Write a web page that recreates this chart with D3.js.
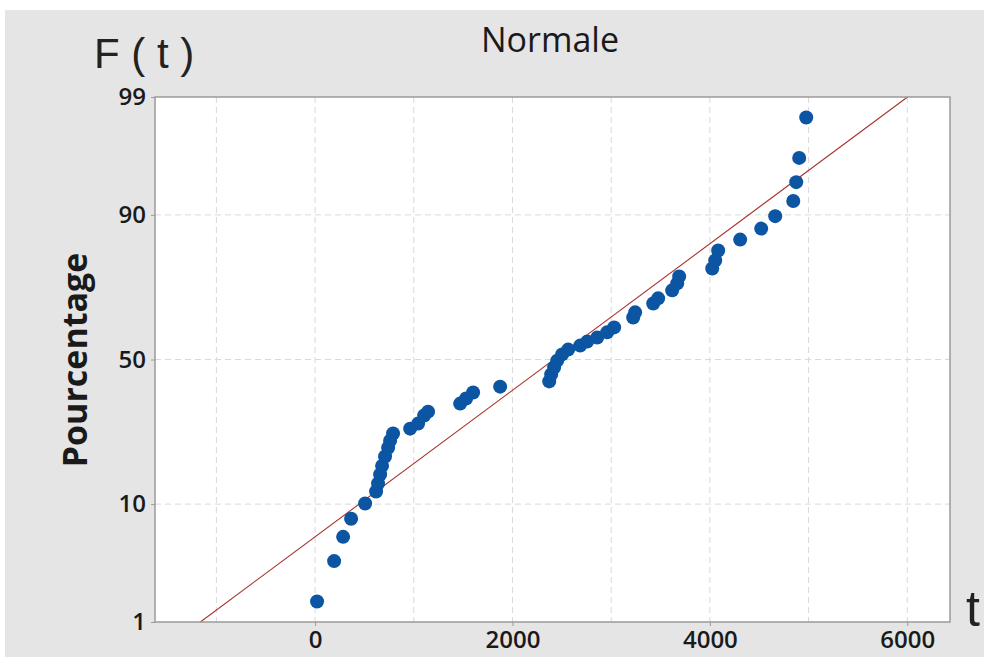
<!DOCTYPE html>
<html>
<head>
<meta charset="utf-8">
<script src="https://cdn.jsdelivr.net/npm/d3@7"></script>
<style>
  body { margin: 0; background: #fff; }
</style>
</head>
<body>
<div id="chart"></div>
<script>
// Données (t, pourcentage cumulé)
const tValues = [20, 193, 284, 365, 507, 618, 638, 659, 679, 709, 740, 760, 790, 963, 1044, 1105, 1145,
  1470, 1530, 1601, 1875, 2372, 2392, 2422, 2453, 2503, 2564, 2686, 2757, 2858, 2959, 3030,
  3223, 3243, 3426, 3476, 3618, 3669, 3689, 4024, 4054, 4084, 4307, 4520, 4662, 4845, 4875, 4905, 4976];
const pctValues = [1.6, 3.7, 5.8, 7.9, 10.1, 12.1, 13.6, 15.4, 17.3, 19.5, 21.7, 23.6, 25.6, 27.0, 28.5, 31.0, 32.2,
  34.8, 36.5, 38.5, 40.5, 42.3, 44.7, 47.2, 49.6, 51.8, 53.5, 54.9, 56.3, 57.7, 59.5, 61.2,
  64.5, 66.2, 69.0, 70.6, 73.0, 75.0, 76.9, 79.0, 81.0, 83.3, 85.6, 87.7, 89.8, 92.0, 94.2, 96.3, 98.4];

const yTicks = [1, 10, 50, 90, 99];
const yGrid = [10, 50, 90];
const xTicks = [0, 2000, 4000, 6000];
const xGrid = [-1000, 0, 1000, 2000, 3000, 4000, 5000, 6000];

// droite ajustée (loi normale)
const fitMean = 2420;
const fitSigma = 1540;

// fonction quantile de la loi normale (Acklam)
function probit(p) {
  const a = [-3.969683028665376e+01, 2.209460984245205e+02, -2.759285104469687e+02, 1.383577518672690e+02, -3.066479806614716e+01, 2.506628277459239e+00];
  const b = [-5.447609879822406e+01, 1.615858368580409e+02, -1.556989798598866e+02, 6.680131188771972e+01, -1.328068155288572e+01];
  const c = [-7.784894002430293e-03, -3.223964580411365e-01, -2.400758277161838e+00, -2.549732539343734e+00, 4.374664141464968e+00, 2.938163982698783e+00];
  const d = [7.784695709041462e-03, 3.224671290700398e-01, 2.445134137142996e+00, 3.754408661907416e+00];
  const plow = 0.02425;
  let q, r;
  if (p < plow) {
    q = Math.sqrt(-2 * Math.log(p));
    return (((((c[0]*q+c[1])*q+c[2])*q+c[3])*q+c[4])*q+c[5]) / ((((d[0]*q+d[1])*q+d[2])*q+d[3])*q+1);
  } else if (p <= 1 - plow) {
    q = p - 0.5; r = q * q;
    return (((((a[0]*r+a[1])*r+a[2])*r+a[3])*r+a[4])*r+a[5])*q / (((((b[0]*r+b[1])*r+b[2])*r+b[3])*r+b[4])*r+1);
  } else {
    q = Math.sqrt(-2 * Math.log(1 - p));
    return -(((((c[0]*q+c[1])*q+c[2])*q+c[3])*q+c[4])*q+c[5]) / ((((d[0]*q+d[1])*q+d[2])*q+d[3])*q+1);
  }
}

const width = 984, height = 657;
const plotLeft = 155, plotRight = 950, plotTop = 97, plotBottom = 622;

const svg = d3.select("#chart").append("svg")
  .attr("width", width)
  .attr("height", height);

// fond gris
svg.append("rect")
  .attr("x", 5).attr("y", 10)
  .attr("width", width - 5).attr("height", height - 10)
  .attr("fill", "#e5e5e5");

const x = d3.scaleLinear().domain([-1622, 6433]).range([plotLeft, plotRight]);
const zScale = d3.scaleLinear().domain([probit(0.01), probit(0.99)]).range([plotBottom, plotTop]);
const y = pct => zScale(probit(pct / 100));

// zone du graphique
svg.append("rect")
  .attr("x", plotLeft).attr("y", plotTop)
  .attr("width", plotRight - plotLeft).attr("height", plotBottom - plotTop)
  .attr("fill", "#fff");

// grilles
svg.append("g").selectAll("line")
  .data(xGrid).enter().append("line")
  .attr("x1", d => x(d)).attr("x2", d => x(d))
  .attr("y1", plotTop).attr("y2", plotBottom)
  .attr("stroke", "#d9d9d9").attr("stroke-dasharray", "6,4");

svg.append("g").selectAll("line")
  .data(yGrid).enter().append("line")
  .attr("x1", plotLeft).attr("x2", plotRight)
  .attr("y1", d => y(d)).attr("y2", d => y(d))
  .attr("stroke", "#d9d9d9").attr("stroke-dasharray", "6,4");

// droite ajustée
const lineP = [1, 99];
svg.append("path")
  .datum(lineP)
  .attr("d", d3.line()
    .x(p => x(fitMean + fitSigma * probit(p / 100)))
    .y(p => y(p)))
  .attr("stroke", "#a8332c")
  .attr("stroke-width", 1.1)
  .attr("fill", "none");

// points
const points = tValues.map((t, i) => ({ t: t, p: pctValues[i] }));
svg.append("g").selectAll("circle")
  .data(points).enter().append("circle")
  .attr("cx", d => x(d.t))
  .attr("cy", d => y(d.p))
  .attr("r", 7)
  .attr("fill", "#0b55a3");

// cadre
svg.append("rect")
  .attr("x", plotLeft).attr("y", plotTop)
  .attr("width", plotRight - plotLeft).attr("height", plotBottom - plotTop)
  .attr("fill", "none")
  .attr("stroke", "#9a9a9a")
  .attr("stroke-width", 1.5);

// axes
const xAxis = svg.append("g")
  .attr("transform", `translate(0,${plotBottom})`)
  .call(d3.axisBottom(x).tickValues(xTicks).tickSize(4).tickFormat(d3.format("d")));
const yAxis = svg.append("g")
  .attr("transform", `translate(${plotLeft},0)`)
  .call(d3.axisLeft(zScale).tickValues(yTicks.map(v => probit(v / 100)))
    .tickSize(4).tickFormat((d, i) => yTicks[i]));

[xAxis, yAxis].forEach(g => {
  g.select(".domain").remove();
  g.selectAll(".tick line").attr("stroke", "#9a9a9a");
  g.selectAll(".tick text")
    .attr("font-family", "'Open Sans', sans-serif")
    .attr("font-size", "24px")
    .attr("font-weight", 600)
    .attr("fill", "#1a1a1a");
});
xAxis.selectAll(".tick text").attr("dy", "0.8em");
yAxis.selectAll(".tick text").attr("dx", "-2px");

// titres
svg.append("text")
  .attr("x", 550).attr("y", 52)
  .attr("text-anchor", "middle")
  .attr("font-family", "'Open Sans', sans-serif")
  .attr("font-size", "34px")
  .attr("font-weight", 500)
  .attr("fill", "#1a1a1a")
  .text("Normale");

svg.append("text")
  .attr("transform", "translate(87,360) rotate(-90)")
  .attr("text-anchor", "middle")
  .attr("font-family", "'Open Sans', sans-serif")
  .attr("font-weight", "bold")
  .attr("font-size", "34px")
  .attr("fill", "#1a1a1a")
  .text("Pourcentage");

svg.append("text")
  .attr("x", 94).attr("y", 68)
  .attr("font-family", "'Liberation Sans', Arial, sans-serif")
  .attr("font-size", "42px")
  .attr("fill", "#222")
  .text("F ( t )");

svg.append("text")
  .attr("x", 966).attr("y", 626)
  .attr("font-family", "'Liberation Sans', Arial, sans-serif")
  .attr("font-size", "50px")
  .attr("fill", "#222")
  .text("t");
</script>
</body>
</html>
